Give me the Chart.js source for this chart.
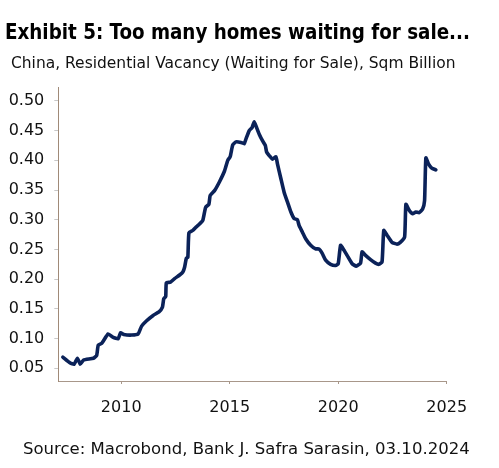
<!DOCTYPE html>
<html><head><meta charset="utf-8">
<script src="https://cdn.jsdelivr.net/npm/chart.js@4.4.1/dist/chart.umd.min.js"></script>
<style>
html,body{margin:0;padding:0;background:#fff;}
#wrap{position:relative;width:499px;height:468px;overflow:hidden;background:#fff;}
#c{position:absolute;left:0;top:0;}
.t{position:absolute;white-space:nowrap;transform-origin:0 0;color:#111;font-family:"DejaVu Sans","Liberation Sans",sans-serif;}
#title{font-family:"DejaVu Sans Condensed","Liberation Sans Narrow","DejaVu Sans",sans-serif;font-weight:bold;color:#000;}
</style></head><body>
<div id="wrap">
<canvas id="c" width="499" height="468"></canvas>
<div class="t" id="title">Exhibit 5: Too many homes waiting for sale...</div>
<div class="t" id="sub">China, Residential Vacancy (Waiting for Sale), Sqm Billion</div>
<div class="t" id="src">Source: Macrobond, Bank J. Safra Sarasin, 03.10.2024</div>
</div>
<script>
// ---- data ----
const years = [2007.31,2007.65,2007.83,2007.98,2008.11,2008.26,2008.72,2008.87,2008.94,2009.10,
2009.40,2009.63,2009.86,2009.97,2010.12,2010.48,2010.78,2010.94,2011.17,2011.47,
2011.74,2011.90,2011.96,2012.05,2012.08,2012.27,2012.46,2012.69,2012.84,2012.92,
2013.00,2013.07,2013.12,2013.30,2013.46,2013.61,2013.76,2013.89,2014.04,2014.10,
2014.30,2014.53,2014.76,2014.91,2015.02,2015.14,2015.29,2015.52,2015.67,2015.75,
2015.90,2016.03,2016.13,2016.24,2016.36,2016.51,2016.64,2016.70,2016.82,2016.97,
2017.13,2017.20,2017.36,2017.51,2017.66,2017.82,2017.97,2018.12,2018.20,2018.35,
2018.50,2018.73,2018.96,2019.11,2019.27,2019.42,2019.65,2019.88,2020.00,2020.11,
2020.26,2020.41,2020.64,2020.83,2021.03,2021.10,2021.26,2021.49,2021.72,2021.87,
2022.02,2022.10,2022.25,2022.48,2022.71,2022.86,2023.06,2023.12,2023.27,2023.43,
2023.58,2023.73,2023.89,2023.98,2024.04,2024.16,2024.31,2024.50];
const vacancy = [0.069,0.059,0.057,0.067,0.057,0.064,0.067,0.072,0.089,0.092,
0.108,0.102,0.100,0.110,0.107,0.106,0.108,0.121,0.130,0.139,
0.145,0.153,0.167,0.171,0.194,0.195,0.201,0.207,0.212,0.220,
0.235,0.237,0.278,0.282,0.288,0.293,0.299,0.321,0.326,0.341,
0.349,0.364,0.382,0.400,0.406,0.426,0.431,0.430,0.428,0.436,
0.450,0.455,0.465,0.455,0.444,0.433,0.425,0.414,0.408,0.402,
0.406,0.394,0.369,0.346,0.330,0.313,0.302,0.300,0.290,0.279,
0.268,0.257,0.251,0.251,0.243,0.232,0.225,0.223,0.226,0.257,
0.249,0.240,0.226,0.222,0.227,0.246,0.240,0.233,0.227,0.225,
0.229,0.282,0.274,0.262,0.259,0.262,0.271,0.326,0.316,0.310,
0.313,0.312,0.318,0.332,0.404,0.394,0.387,0.384];
const xTicks = [2010, 2015, 2020, 2025];
const yTicks = [0.05,0.10,0.15,0.20,0.25,0.30,0.35,0.40,0.45,0.50];

// ---- text layout ----
function place(id, left, baseline, size, width){
  const el = document.getElementById(id);
  el.style.fontSize = size + 'px';
  el.style.lineHeight = size + 'px';
  el.style.left = left + 'px';
  el.style.top = (baseline - 0.846*size) + 'px';
  const w = el.getBoundingClientRect().width;
  el.style.transform = 'scaleX(' + (width / w) + ')';
}
place('title', 4.5, 40, 21, 465);
place('sub', 10.5, 68.3, 15, 444.5);
place('src', 23.3, 455, 16.5, 446.7);

// ---- chart ----
const points = years.map((y, i) => ({x: y, y: vacancy[i]}));
new Chart(document.getElementById('c'), {
  type: 'line',
  data: { datasets: [{
    data: points,
    borderColor: '#0b2259',
    borderWidth: 3.6,
    pointRadius: 0,
    tension: 0.15,
    borderJoinStyle: 'round',
    borderCapStyle: 'round',
    fill: false
  }]},
  options: {
    responsive: false,
    animation: false,
    devicePixelRatio: 1,
    layout: { padding: { left: 0, top: 87.5, right: 52.3, bottom: 47 } },
    plugins: { legend: {display: false}, tooltip: {enabled: false}, title: {display:false} },
    scales: {
      x: {
        type: 'linear', min: 2007.1, max: 2025,
        afterBuildTicks: s => { s.ticks = xTicks.map(v => ({value: v})); },
        afterFit: s => { s.height = 40; },
        grid: { drawOnChartArea: false, drawTicks: true, tickLength: 3, color: '#a8978a' },
        border: { display: true, color: '#a8978a', width: 1 },
        ticks: { font: {family: 'DejaVu Sans', size: 16}, color: '#111', padding: 14, maxRotation: 0,
                 callback: v => String(v) }
      },
      y: {
        type: 'linear', min: 0.0287, max: 0.5225,
        afterBuildTicks: s => { s.ticks = yTicks.map(v => ({value: v})); },
        afterFit: s => { s.width = 58.3; },
        grid: { drawOnChartArea: false, drawTicks: true, tickLength: 4, color: '#c8c8c8' },
        border: { display: true, color: '#a08a78', width: 1 },
        ticks: { font: {family: 'DejaVu Sans', size: 16}, color: '#111', padding: 10,
                 callback: v => v.toFixed(2) }
      }
    }
  }
});
</script>
</body></html>
